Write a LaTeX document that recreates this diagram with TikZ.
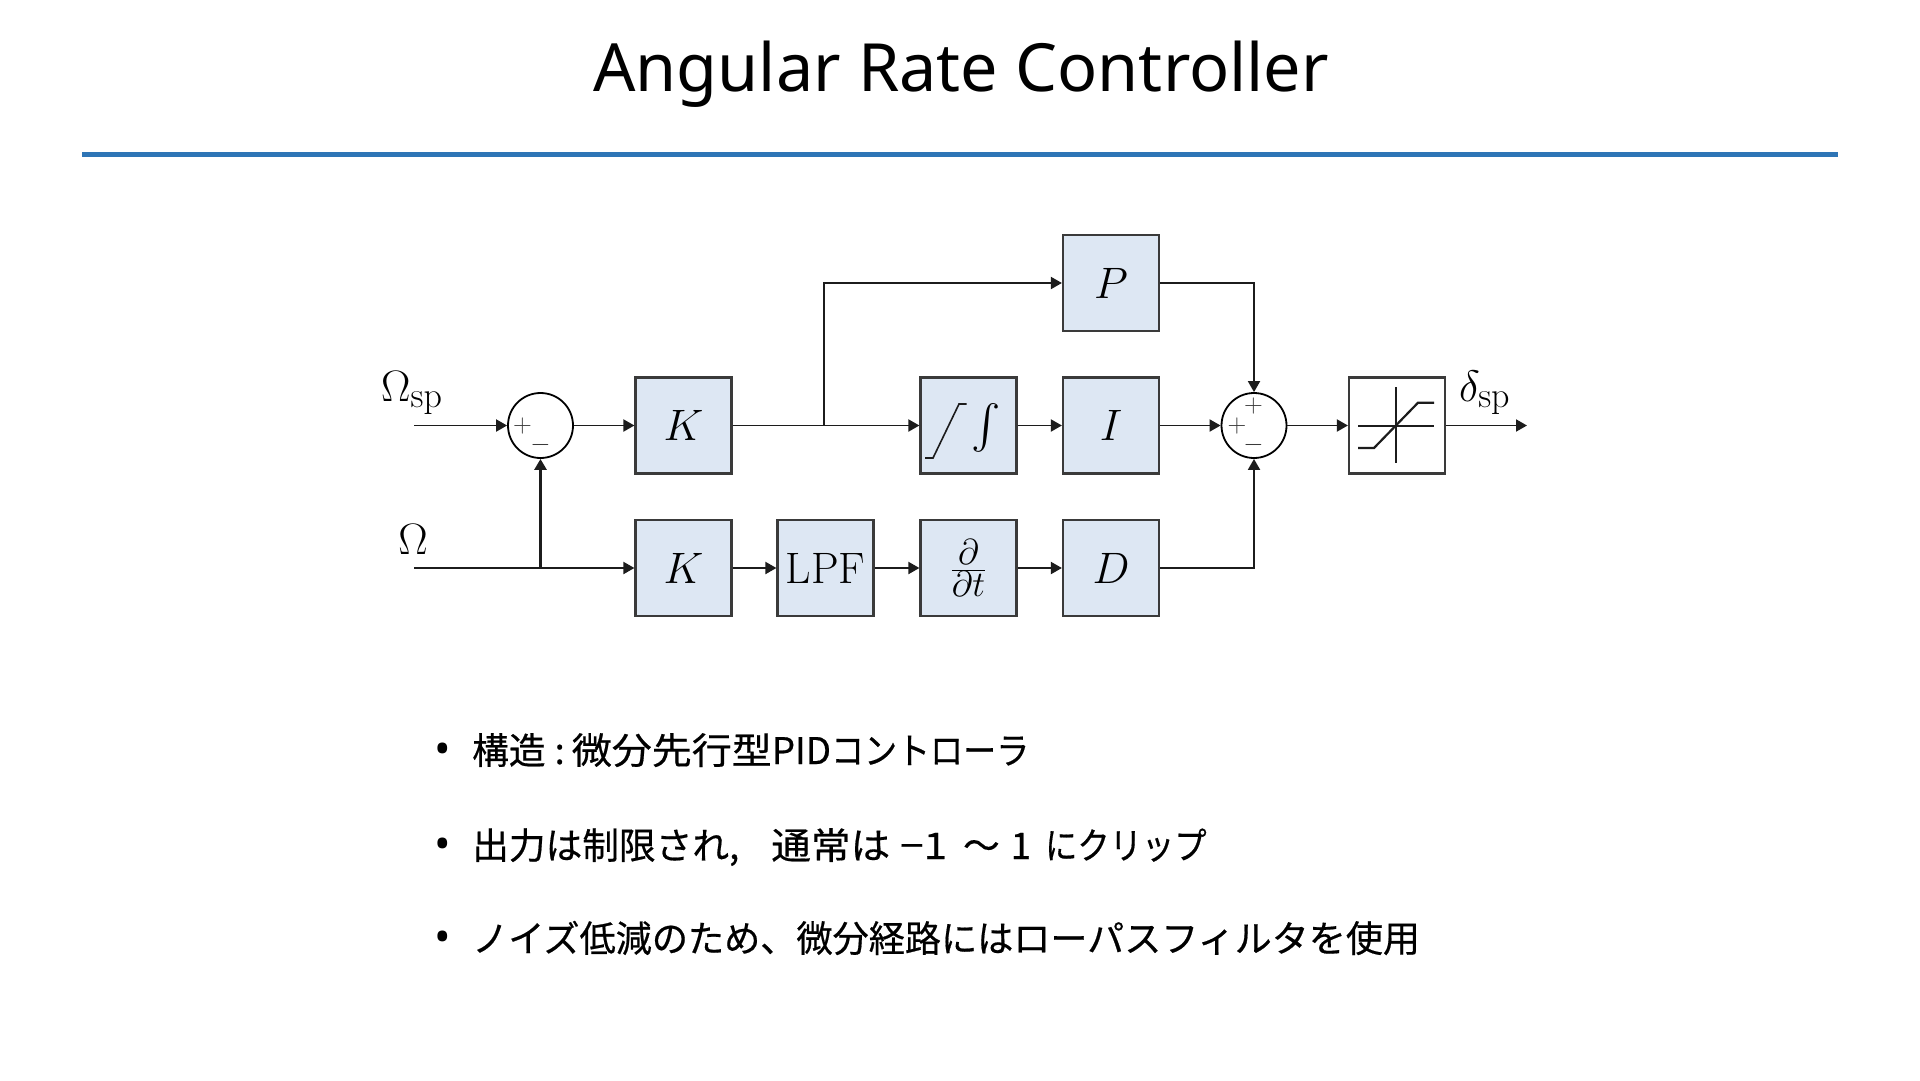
\RequirePackage{fix-cm}
\documentclass[tikz,border=0pt]{standalone}
\usepackage{graphicx}
\usepackage[no-math]{fontspec}
\newfontfamily\titlefont{Noto Sans}
\newfontfamily\cjk[FakeBold=0.5]{Noto Sans CJK JP}
\usetikzlibrary{arrows.meta}
\DeclareMathSizes{44}{44}{36}{26}
\definecolor{boxfill}{HTML}{DDE7F3}
\definecolor{boxline}{HTML}{3A3A3A}
\definecolor{wire}{HTML}{1C1C1C}
\definecolor{rulec}{HTML}{2E75B6}
\newcommand{\fsz}[1]{\fontsize{#1}{#1}\selectfont}
\tikzset{
  x=1pt,y=-1pt,
  block/.style={draw=boxline,fill=boxfill,line width=2.2pt,minimum width=96pt,minimum height=96pt,inner sep=0pt,font=\fsz{44}},
  plainblock/.style={block,fill=white},
  sumnode/.style={circle,draw=black,fill=white,line width=1.8pt,minimum size=65pt,inner sep=0pt},
  flow/.style={draw=wire,line width=1.9pt,-{Triangle[length=11pt,width=12pt]}},
  wireline/.style={draw=wire,line width=1.9pt},
  sign/.style={inner sep=0pt,text=boxline,font=\fsz{26}},
  sig/.style={inner sep=0pt,anchor=base west,font=\fsz{44}},
  icon/.style={draw=wire,line width=1.6pt},
  iconthick/.style={draw=wire,line width=2.2pt},
  bul/.style={inner sep=0pt,anchor=base west,font=\cjk\fsz{36.7}},
  dotmark/.style={inner sep=0pt,anchor=base west,font=\titlefont\fsz{44}},
}
\begin{document}
\begin{tikzpicture}
\useasboundingbox (0,0) rectangle (1920,1080);
\fill[white] (0,0) rectangle (1920,1080);
\node[inner sep=0pt,font=\titlefont\fsz{66.5}] (title) at (961,74) {Angular Rate Controller};
\coordinate (ruleL) at (82,154);
\coordinate (ruleR) at (1838,154);
\draw[rulec,line width=5pt] (ruleL) -- (ruleR);

\node[block] (k1) at (683.5,425.5) {$K$};
\node[block] (k2) at (683.5,568) {$K$};
\node[block] (lpf) at (825.5,568) {LPF};
\node[block] (int) at (968.5,425.5) {};
\node[block] (dt) at (968.5,568) {${\textstyle\frac{\partial}{\partial t}}$};
\node[block] (p) at (1111,283) {$P$};
\node[block] (i) at (1111,425.5) {$I$};
\node[block] (dd) at (1111,568) {$D$};
\node[plainblock] (sat) at (1397,425.5) {};
\node[sumnode] (s1) at (540.5,425.5) {};
\node[sumnode] (s2) at (1254,425.5) {};

\node[sign] (s1p) at (522.5,425.5) {$+$};
\node[sign] (s1m) at (540.5,444.5) {$-$};
\node[sign] (s2l) at (1237,426) {$+$};
\node[sign] (s2t) at (1253.5,406) {$+$};
\node[sign] (s2m) at (1253.5,445) {$-$};

\node[sig] (lsp) at (381,401) {$\Omega_{\mathrm{sp}}$};
\node[sig,anchor=base] (lom) at (413,554) {$\Omega$};
\node[sig] (ldl) at (1459,401) {$\delta_{\mathrm{sp}}$};

\coordinate (inA) at (414,425.5);
\coordinate (inB) at (414,568);
\coordinate (jB) at (540.5,568);
\coordinate (br) at (824,425.5);
\coordinate (outE) at (1527,425.5);

\draw[flow] (inA) -- (s1.west);
\draw[flow] (s1.east) -- (k1.west);
\draw[wireline] (k1.east) -- (br);
\draw[flow] (br) -- (int.west);
\draw[flow] (br) |- (p.west);
\draw[flow] (int.east) -- (i.west);
\draw[flow] (i.east) -- (s2.west);
\draw[flow] (p.east) -| (s2.north);
\draw[flow] (dd.east) -| (s2.south);
\draw[flow] (s2.east) -- (sat.west);
\draw[flow] (sat.east) -- (outE);
\draw[wireline] (inB) -- (jB);
\draw[flow] (jB) -- (k2.west);
\draw[flow,line width=3pt] (jB) -- (s1.south);
\draw[flow] (k2.east) -- (lpf.west);
\draw[flow] (lpf.east) -- (dt.west);
\draw[flow] (dt.east) -- (dd.west);

% integrator glyphs
\draw[icon] (925,458) -- (933,458) -- (959,404) -- (966.5,404);
\node[inner sep=0pt,scale=4.4] (intsym) at (986,428) {$\int$};
% saturation glyph
\draw[icon] (1358,425.7) -- (1434,425.7);
\draw[icon] (1396,387) -- (1396,463);
\draw[iconthick] (1358,448) -- (1374,448) -- (1418,402.7) -- (1434,402.7);

\node[dotmark] (b1) at (434,764) {•};
\node[dotmark] (b2) at (434,859) {•};
\node[dotmark] (b3) at (434,952) {•};
\node[bul] (t1) at (472,764) {構造\hspace{9pt}:\hspace{7pt}\scalebox{1.09}[1]{微分先行型}PID\scalebox{0.9}[1]{コントローラ}};
\node[bul] (t2) at (472,859) {出力は制限され,\hspace{32pt}\scalebox{1.08}[1]{通常は}\hspace{10pt}\scalebox{1.15}[1]{−1}\hspace{16pt}〜\hspace{11pt}1\hspace{14pt}\scalebox{0.88}[1]{にクリップ}};
\node[bul] (t3) at (472,952) {\scalebox{0.985}[1]{ノイズ低減のため、微分経路には}\scalebox{1.01}[1]{ローパスフィルタを使用}};
\end{tikzpicture}
\end{document}
